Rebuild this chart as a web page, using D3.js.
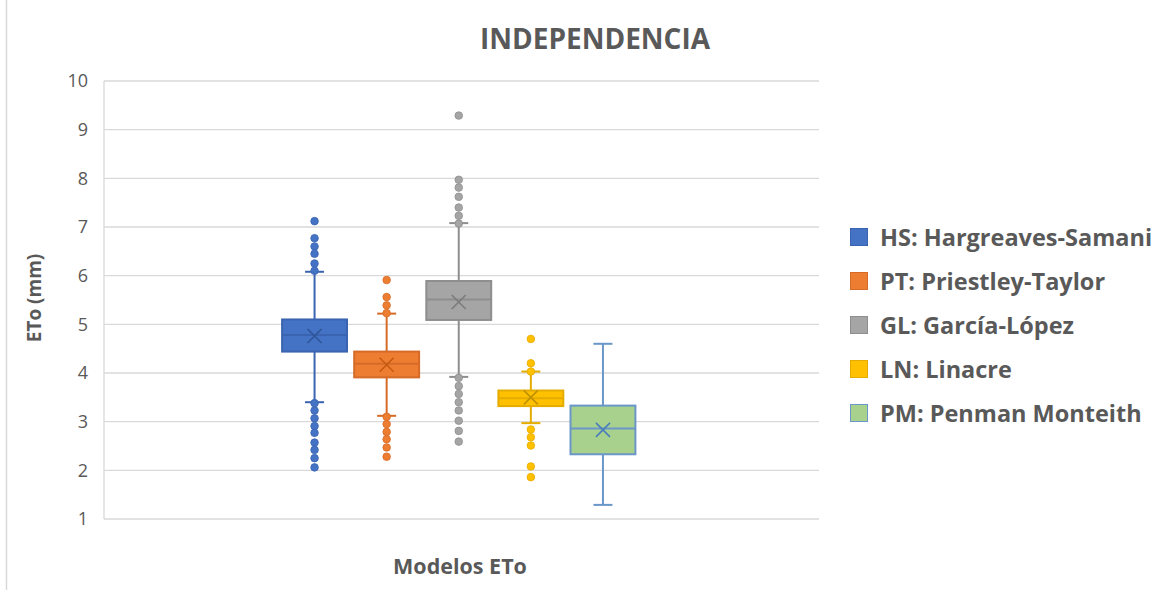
<!DOCTYPE html>
<html>
<head>
<meta charset="utf-8">
<script src="https://cdn.jsdelivr.net/npm/d3@7"></script>
<style>
  html, body { margin: 0; padding: 0; background: #fff; }
  svg text { font-family: "Open Sans", Lato, sans-serif; fill: #595959; }
</style>
</head>
<body>
<svg id="chart" width="1172" height="590"></svg>
<script>
// Series (one box each) with their quartile summaries
const seriesCodes = ["HS", "PT", "GL", "LN", "PM"];
const seriesNames = ["HS: Hargreaves-Samani", "PT: Priestley-Taylor", "GL: García-López", "LN: Linacre", "PM: Penman Monteith"];
const q1Values     = [4.44, 3.91, 5.09, 3.32, 2.33];
const medianValues = [4.78, 4.19, 5.51, 3.48, 2.86];
const q3Values     = [5.10, 4.44, 5.89, 3.64, 3.33];
const meanValues   = [4.76, 4.17, 5.46, 3.50, 2.83];
const whiskerLow   = [3.40, 3.12, 3.92, 2.97, 1.29];
const whiskerHigh  = [6.08, 5.22, 7.08, 4.03, 4.60];
const outliers = [
  [7.12, 6.77, 6.60, 6.45, 6.25, 6.10, 3.38, 3.23, 3.07, 2.91, 2.77, 2.57, 2.42, 2.25, 2.06],
  [5.91, 5.56, 5.39, 5.23, 3.10, 2.95, 2.79, 2.64, 2.47, 2.28],
  [9.29, 7.97, 7.81, 7.62, 7.40, 7.23, 7.07, 3.90, 3.73, 3.57, 3.40, 3.23, 3.02, 2.81, 2.59],
  [4.70, 4.20, 4.03, 2.84, 2.68, 2.51, 2.08, 1.86],
  []
];
const yTicks = [1, 2, 3, 4, 5, 6, 7, 8, 9, 10];

const fillColors   = ["#4472C4", "#ED7D31", "#A5A5A5", "#FFC000", "#A9D18E"];
const strokeColors = ["#3A64B0", "#D66B27", "#8E8E8E", "#E5AC00", "#6A96C8"];
const markColors   = ["#2F5597", "#C55A11", "#7B7B7B", "#BF9000", "#4A7EBB"];

const svg = d3.select("#chart");
const plot = { left: 104, right: 819, top: 81, bottom: 519 };

// outer frame edge
svg.append("line").attr("x1", 6.5).attr("x2", 6.5).attr("y1", 0).attr("y2", 590)
  .attr("stroke", "#D9D9D9").attr("stroke-width", 1.5);

const y = d3.scaleLinear().domain([1, 10]).range([plot.bottom, plot.top]);
const x = d3.scaleBand().domain(seriesCodes).range([278.5, 639]).paddingInner(0.1).paddingOuter(0.05);

// gridlines
svg.append("g").selectAll("line").data(yTicks).join("line")
  .attr("x1", plot.left).attr("x2", plot.right)
  .attr("y1", d => y(d)).attr("y2", d => y(d))
  .attr("stroke", "#D9D9D9").attr("stroke-width", 1.3);
// left axis line
svg.append("line").attr("x1", plot.left).attr("x2", plot.left)
  .attr("y1", plot.top).attr("y2", plot.bottom)
  .attr("stroke", "#D9D9D9").attr("stroke-width", 1.3);

// y axis tick labels
const yAxis = d3.axisLeft(y).tickValues(yTicks).tickSize(0).tickPadding(16).tickFormat(d3.format("d"));
const gY = svg.append("g").attr("transform", `translate(${plot.left},0)`).call(yAxis);
gY.select(".domain").remove();
gY.selectAll("text").attr("font-size", 18).style("font-family", "'Open Sans', sans-serif").style("fill", "#595959");

// title and axis titles
svg.append("text").attr("x", 595).attr("y", 49).attr("text-anchor", "middle")
  .attr("font-size", 28).attr("font-weight", "bold").text("INDEPENDENCIA");
svg.append("text").attr("transform", "translate(41,298) rotate(-90)").attr("text-anchor", "middle")
  .attr("font-size", 19).attr("font-weight", "bold").text("ETo (mm)");
svg.append("text").attr("x", 460).attr("y", 574).attr("text-anchor", "middle")
  .attr("font-size", 21.5).attr("font-weight", "bold").text("Modelos ETo");

// boxes
const data = seriesCodes.map((c, i) => ({
  code: c, i, q1: q1Values[i], med: medianValues[i], q3: q3Values[i], mean: meanValues[i],
  lo: whiskerLow[i], hi: whiskerHigh[i], out: outliers[i]
}));

const bw = x.bandwidth();
const capW = 19;
const g = svg.append("g");
data.forEach(d => {
  const cx = x(d.code) + bw / 2;
  const gs = g.append("g");
  const sc = strokeColors[d.i];
  // whiskers
  gs.append("line").attr("x1", cx).attr("x2", cx).attr("y1", y(d.hi)).attr("y2", y(d.q3))
    .attr("stroke", sc).attr("stroke-width", 2);
  gs.append("line").attr("x1", cx).attr("x2", cx).attr("y1", y(d.q1)).attr("y2", y(d.lo))
    .attr("stroke", sc).attr("stroke-width", 2);
  gs.selectAll("line.cap").data([d.hi, d.lo]).join("line").attr("class", "cap")
    .attr("x1", cx - capW / 2).attr("x2", cx + capW / 2)
    .attr("y1", v => y(v)).attr("y2", v => y(v))
    .attr("stroke", sc).attr("stroke-width", 2);
  // box
  gs.append("rect").attr("x", x(d.code)).attr("width", bw)
    .attr("y", y(d.q3)).attr("height", y(d.q1) - y(d.q3))
    .attr("fill", fillColors[d.i]).attr("stroke", sc).attr("stroke-width", 2);
  // median
  gs.append("line").attr("x1", x(d.code)).attr("x2", x(d.code) + bw)
    .attr("y1", y(d.med)).attr("y2", y(d.med))
    .attr("stroke", sc).attr("stroke-width", 2);
  // mean marker
  const m = 7;
  const my = y(d.mean);
  gs.append("path")
    .attr("d", `M${cx - m},${my - m}L${cx + m},${my + m}M${cx - m},${my + m}L${cx + m},${my - m}`)
    .attr("stroke", markColors[d.i]).attr("stroke-width", 1.6).attr("fill", "none");
  // outliers
  gs.selectAll("circle").data(d.out).join("circle")
    .attr("cx", cx).attr("cy", v => y(v)).attr("r", 3.8)
    .attr("fill", fillColors[d.i]).attr("stroke", sc).attr("stroke-width", 0.8);
});

// legend
const legend = svg.append("g");
seriesNames.forEach((name, i) => {
  const ly = 237 + i * 44;
  legend.append("rect").attr("x", 850.5).attr("y", ly - 8.5).attr("width", 17).attr("height", 17)
    .attr("fill", fillColors[i]).attr("stroke", strokeColors[i]).attr("stroke-width", 1);
  legend.append("text").attr("x", 880).attr("y", ly + 8.5)
    .attr("font-size", 23.5).attr("font-weight", "bold").text(name);
});
</script>
</body>
</html>
